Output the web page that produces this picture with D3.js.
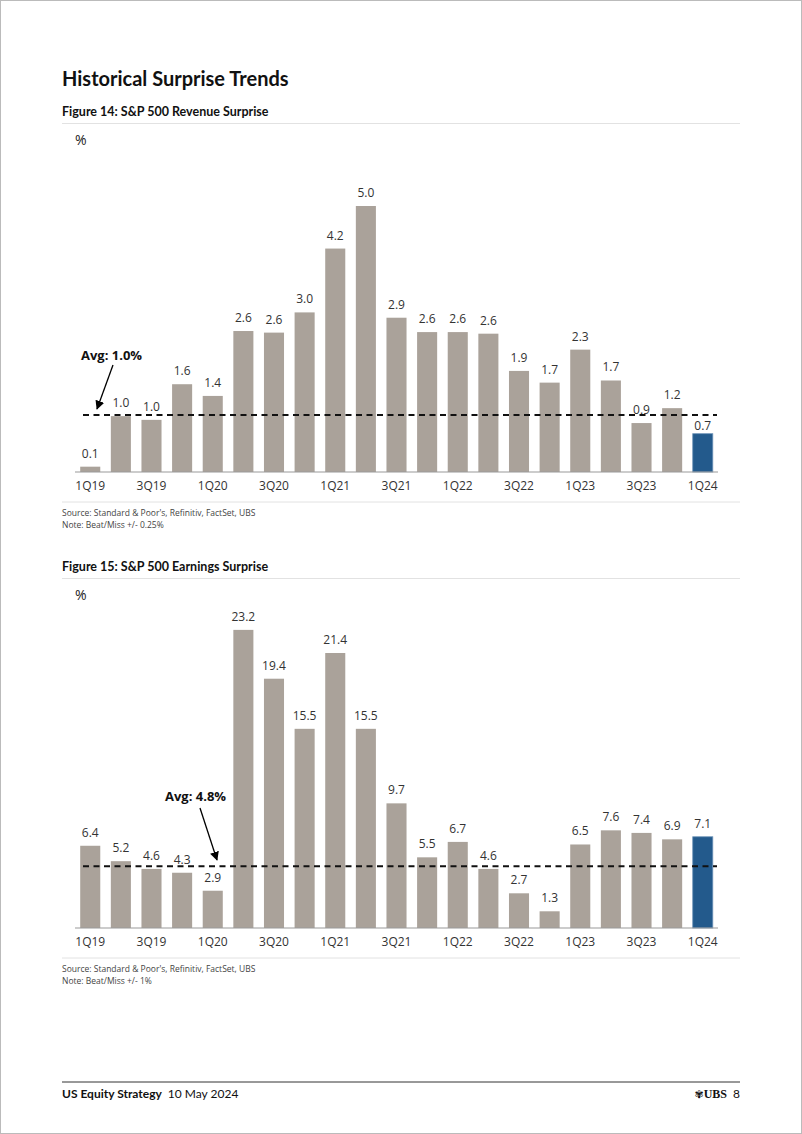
<!DOCTYPE html>
<html><head><meta charset="utf-8">
<script src="https://cdn.jsdelivr.net/npm/d3@7"></script>
<style>
html,body{margin:0;padding:0;background:#fff;}
svg{display:block;}
</style></head>
<body>
<svg id="page" width="802" height="1134"></svg>
<script>
const categories = ["1Q19","2Q19","3Q19","4Q19","1Q20","2Q20","3Q20","4Q20","1Q21","2Q21","3Q21","4Q21","1Q22","2Q22","3Q22","4Q22","1Q23","2Q23","3Q23","4Q23","1Q24"];
const revenueSurprise = [0.1,1.05,0.98,1.65,1.43,2.65,2.62,3.0,4.2,5.0,2.9,2.63,2.63,2.6,1.9,1.68,2.3,1.72,0.92,1.2,0.72];
const revenueLabels = ["0.1","1.0","1.0","1.6","1.4","2.6","2.6","3.0","4.2","5.0","2.9","2.6","2.6","2.6","1.9","1.7","2.3","1.7","0.9","1.2","0.7"];
const revenueAvg = 1.07;
const earningsSurprise = [6.4,5.2,4.6,4.3,2.9,23.2,19.4,15.5,21.4,15.5,9.7,5.5,6.7,4.6,2.7,1.3,6.5,7.6,7.4,6.9,7.1];
const earningsAvg = 4.8;
const tickLabels = ["1Q19","3Q19","1Q20","3Q20","1Q21","3Q21","1Q22","3Q22","1Q23","3Q23","1Q24"];

const FONT = "'Open Sans', 'Noto Sans', sans-serif";
const HFONT = "Lato, 'Open Sans', sans-serif";
const svg = d3.select("#page");

svg.append("defs").append("marker")
  .attr("id","arrow").attr("viewBox","0 0 10 10").attr("refX",9).attr("refY",5)
  .attr("markerWidth",7).attr("markerHeight",7).attr("orient","auto-start-reverse")
  .append("path").attr("d","M0,0 L10,5 L0,10 z").attr("fill","#000");

svg.append("rect").attr("x",0.5).attr("y",0.5).attr("width",801).attr("height",1133)
  .attr("fill","none").attr("stroke","#bbb");

svg.append("text").attr("x",62).attr("y",86).text("Historical Surprise Trends")
  .attr("font-family",HFONT).attr("font-weight",700).attr("font-size",20).attr("fill","#111");

function chart(opt){
  const g = svg.append("g");
  g.append("text").attr("x",62).attr("y",opt.titleY).text(opt.title)
    .attr("font-family",HFONT).attr("font-weight",700).attr("font-size",12.5).attr("fill","#111");
  g.append("line").attr("x1",62).attr("x2",740).attr("y1",opt.titleY+7.5).attr("y2",opt.titleY+7.5)
    .attr("stroke","#e2e2e2").attr("stroke-width",1);
  g.append("text").attr("x",75).attr("y",opt.titleY+29).text("%")
    .attr("font-family",FONT).attr("font-size",14).attr("fill","#222");

  const x = d3.scaleBand().domain(categories).range([75,718]).paddingInner(0.345).paddingOuter(0.17);
  const y = d3.scaleLinear().domain(opt.domain).range([opt.base, opt.top]);

  g.selectAll("rect.bar").data(opt.values).join("rect")
    .attr("x",(d,i)=>x(categories[i])).attr("width",x.bandwidth())
    .attr("y",d=>y(d)).attr("height",d=>y(0)-y(d))
    .attr("fill",(d,i)=>i===categories.length-1?"#235a8c":"#aaa29a")
    .attr("stroke",(d,i)=>i===categories.length-1?"#6d93b8":"none").attr("stroke-width",0.8);

  g.selectAll("text.val").data(opt.values).join("text")
    .attr("x",(d,i)=>x(categories[i])+x.bandwidth()/2)
    .attr("y",(d,i)=>y(d)-9+(opt.nudge[i]||0))
    .attr("text-anchor","middle").text((d,i)=>opt.labels[i])
    .attr("font-family",FONT).attr("font-size",12).attr("fill","#333");

  const axis = d3.axisBottom(x).tickSize(0).tickPadding(9).tickValues(tickLabels);
  const ax = g.append("g").attr("transform",`translate(0,${opt.base})`).call(axis);
  ax.select(".domain").attr("stroke","#9a9a9a").attr("stroke-width",1.2).attr("d",`M75,0H718`);
  ax.selectAll("text").attr("font-family",FONT).attr("font-size",12).attr("fill","#333");

  g.append("line").attr("x1",83).attr("x2",717).attr("y1",y(opt.avg)).attr("y2",y(opt.avg))
    .attr("stroke","#111").attr("stroke-width",2).attr("stroke-dasharray","6,4.5");

  g.append("text").attr("x",opt.avgLabel[0]).attr("y",opt.avgLabel[1]).text(opt.avgText)
    .attr("font-family",FONT).attr("font-weight",700).attr("font-size",13).attr("fill","#111");
  g.append("line").attr("x1",opt.arrow[0]).attr("y1",opt.arrow[1]).attr("x2",opt.arrow[2]).attr("y2",opt.arrow[3])
    .attr("stroke","#000").attr("stroke-width",1.3).attr("marker-end","url(#arrow)");

  g.append("line").attr("x1",62).attr("x2",740).attr("y1",opt.srcY).attr("y2",opt.srcY)
    .attr("stroke","#e2e2e2");
  g.append("text").attr("x",62).attr("y",opt.srcY+14).text("Source: Standard & Poor's, Refinitiv, FactSet, UBS")
    .attr("font-family",FONT).attr("font-size",8.5).attr("fill","#444");
  g.append("text").attr("x",62).attr("y",opt.srcY+26).text(opt.note)
    .attr("font-family",FONT).attr("font-size",8.5).attr("fill","#444");
}

chart({title:"Figure 14: S&P 500 Revenue Surprise", titleY:116, values:revenueSurprise, labels:revenueLabels,
  domain:[0,6], base:472, top:472-6*53.2, avg:revenueAvg, avgText:"Avg: 1.0%", avgLabel:[81,360],
  arrow:[113,365,97,409], srcY:502, note:"Note: Beat/Miss +/- 0.25%",
  nudge:{20:5}});

chart({title:"Figure 15: S&P 500 Earnings Surprise", titleY:571, values:earningsSurprise,
  labels:earningsSurprise.map(d=>d.toFixed(1)),
  domain:[0,25], base:928, top:928-25*12.85, avg:earningsAvg, avgText:"Avg: 4.8%", avgLabel:[165,801],
  arrow:[200,808,217,860], srcY:958, note:"Note: Beat/Miss +/- 1%", nudge:{}});

svg.append("line").attr("x1",62).attr("x2",740).attr("y1",1082).attr("y2",1082).attr("stroke","#333").attr("stroke-width",1);
const ft = svg.append("text").attr("x",62).attr("y",1098).attr("font-family",HFONT).attr("font-size",12).attr("fill","#111");
ft.append("tspan").attr("font-weight",700).text("US Equity Strategy");
ft.append("tspan").attr("dx",6).text("10 May 2024");
const fr = svg.append("text").attr("x",740).attr("y",1098).attr("text-anchor","end").attr("font-size",12).attr("fill","#111");
fr.append("tspan").attr("font-family","'DejaVu Sans'").attr("font-size",11).text("✾");
fr.append("tspan").attr("font-family","'Liberation Serif', serif").attr("font-weight",700).text("UBS");
fr.append("tspan").attr("font-family",HFONT).attr("dx",6).text("8");
</script>
</body></html>
